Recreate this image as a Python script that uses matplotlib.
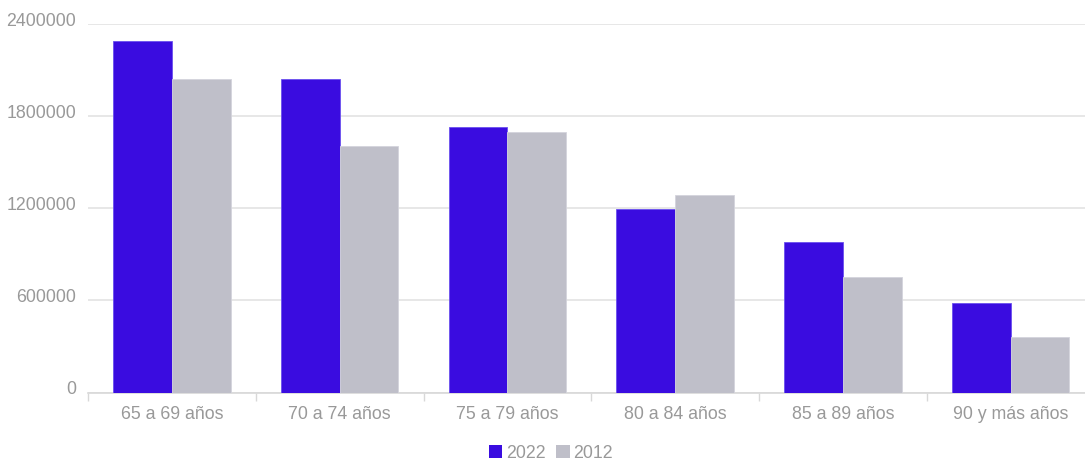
import matplotlib.pyplot as plt
import matplotlib.transforms as mtransforms
import numpy as np
from matplotlib.patches import Patch

plt.rcParams['font.family'] = ['Liberation Sans', 'DejaVu Sans']

categories = ['65 a 69 años', '70 a 74 años', '75 a 79 años',
              '80 a 84 años', '85 a 89 años', '90 y más años']
pop_2022 = [2290000, 2045000, 1731000, 1195000, 980000, 582000]
pop_2012 = [2045000, 1606000, 1699000, 1286000, 753000, 360000]
yticks = [0, 600000, 1200000, 1800000, 2400000]

c_2022 = '#3a0ce0'
c_2012 = '#bfbfc9'
txt = '#999999'
grid = '#e3e3e3'
fs = 12.8

W, H = 1085, 462
fig = plt.figure(figsize=(W / 100, H / 100), dpi=100)
# axes runs a little past the right edge, as in the original layout
ax = fig.add_axes([88 / W, (H - 392.5) / H, (1094.5 - 88) / W, (392.5 - 24) / H])

x = np.arange(len(categories))
w = 0.35
ax.bar(x - w / 2, pop_2022, w, color=c_2022, edgecolor='#6a50ee', linewidth=0.6, zorder=3)
ax.bar(x + w / 2, pop_2012, w, color=c_2012, edgecolor='#d4d4dc', linewidth=0.6, zorder=3)

ax.set_xlim(-0.5, len(categories) - 0.5)
ax.set_ylim(0, 2400000)
ax.set_yticks(yticks)
ax.set_yticklabels([str(v) for v in yticks])
ax.yaxis.grid(True, color=grid, linewidth=1.2, zorder=0)
ax.tick_params(axis='y', length=0, pad=8.5, labelsize=fs, labelcolor=txt)
shift = mtransforms.ScaledTranslation(0, -2 / 100, fig.dpi_scale_trans)
for lbl in ax.get_yticklabels():
    lbl.set_verticalalignment('baseline')
    lbl.set_transform(lbl.get_transform() + shift)

ax.set_xticks(x)
ax.set_xticklabels(categories)
ax.set_xticks(np.arange(len(categories)) - 0.5, minor=True)
ax.tick_params(axis='x', which='major', length=0, pad=10, labelsize=fs, labelcolor=txt)
ax.tick_params(axis='x', which='minor', length=6, color='#d8d8d8', width=1)

for s in ['top', 'right', 'left']:
    ax.spines[s].set_visible(False)
ax.spines['bottom'].set_color('#d8d8d8')
ax.spines['bottom'].set_linewidth(1.2)

handles = [Patch(facecolor=c_2022, label='2022'), Patch(facecolor=c_2012, label='2012')]
fig.legend(handles=handles, loc='center', bbox_to_anchor=(551 / W, 1 - 453 / H),
           ncol=2, frameon=False, fontsize=fs, labelcolor=txt,
           handlelength=0.75, handleheight=0.75, handletextpad=0.2, columnspacing=0.6)

fig.savefig('out.png', dpi=100)
